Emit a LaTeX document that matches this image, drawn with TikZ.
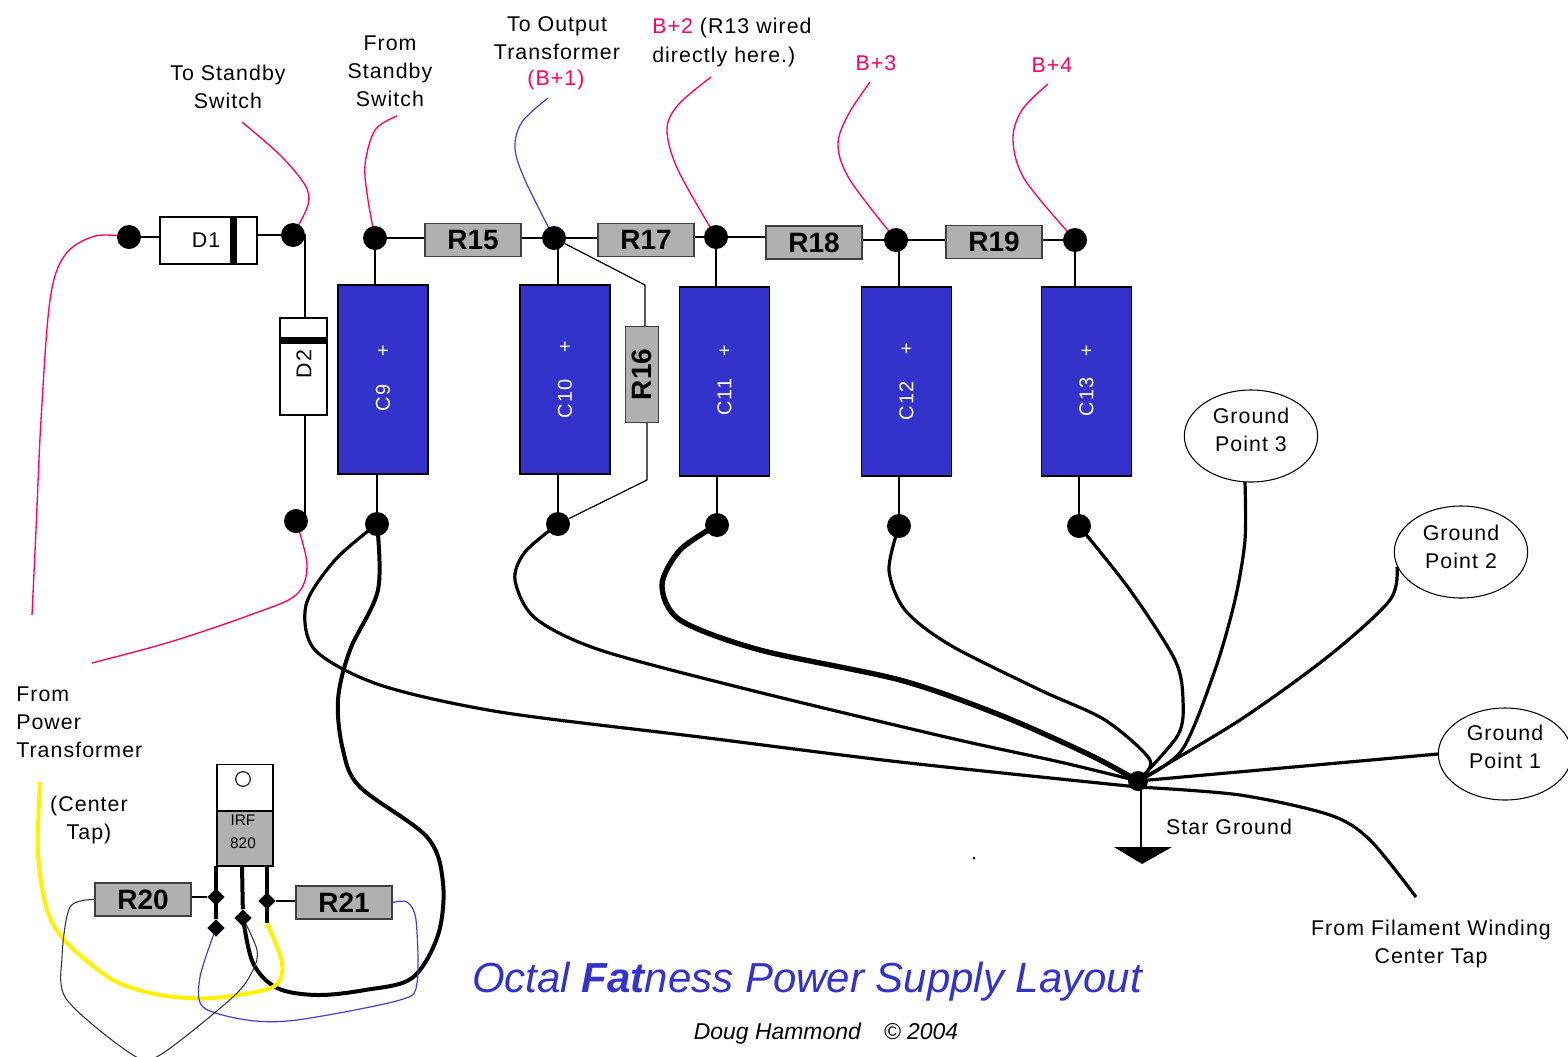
\documentclass[tikz,border=0pt]{standalone}
\usepackage{fontspec}
\setmainfont{Liberation Sans}
\newfontfamily\lab[LetterSpace=5]{Liberation Sans}
\usetikzlibrary{shapes.geometric,backgrounds}
\definecolor{capblue}{RGB}{51,51,204}
\definecolor{pinkw}{RGB}{255,0,102}
\definecolor{bluew}{RGB}{64,64,214}
\definecolor{resgray}{RGB}{176,176,176}
\definecolor{titleblue}{RGB}{51,51,204}
\tikzset{
 dotn/.style={circle,fill=black,draw=none,minimum size=18pt,inner sep=0pt},
 smalld/.style={diamond,fill=black,draw=none,minimum size=13pt,inner sep=0pt},
 rbox/.style={rectangle,draw=black!75,line width=1.1pt,fill=resgray,minimum width=72pt,minimum height=25pt,inner sep=0pt,font=\fontsize{21}{21}\selectfont\bfseries},
 dbox/.style={rectangle,draw=black,line width=1pt,fill=white,inner sep=0pt},
 capbox/.style={rectangle,draw=black,line width=1.1pt,fill=capblue,minimum width=67.5pt,minimum height=141.75pt,inner sep=0pt},
 captext/.style={text=white,inner sep=0pt,font=\lab\fontsize{15}{15}\selectfont},
 lbl/.style={inner sep=0pt,align=center,font=\lab\fontsize{16}{21}\selectfont},
 lbll/.style={lbl,align=left},
 pinklbl/.style={lbl,text=pinkw},
 gp/.style={ellipse,draw=black,line width=.8pt,fill=white,minimum width=100pt,minimum height=69pt,inner sep=0pt},
 lead/.style={line width=.9pt,black},
 pinkwire/.style={line width=1pt,pinkw},
 gw/.style={line width=3pt,black,line join=round},
 gwthin/.style={line width=2.4pt,black,line join=round},
 gwthick/.style={line width=4pt,black,line join=round},
 bw/.style={line width=.9pt,bluew},
 thinw/.style={line width=.8pt,black!80},
 yw/.style={line width=3pt,yellow},
 legw/.style={line width=3pt,black},
}
\begin{document}
\begin{tikzpicture}[x=0.75pt,y=-0.75pt]
\useasboundingbox (0,0) rectangle (1568,1057);
% dots
\node[dotn] (d1L) at (129,237) {};
\node[dotn] (d1R) at (293,235) {};
\node[dotn] (d2B) at (296,521) {};
\node[dotn] (c9T) at (375,238) {};
\node[dotn] (c9B) at (377,524) {};
\node[dotn] (b1) at (554,238) {};
\node[dotn] (c10B) at (558,524) {};
\node[dotn] (b2) at (716,237) {};
\node[dotn] (c11B) at (717,525) {};
\node[dotn] (b3) at (896,240) {};
\node[dotn] (c12B) at (899,526) {};
\node[dotn] (b4) at (1075,240) {};
\node[dotn] (c13B) at (1079,526) {};
% diodes
\node[dbox,minimum width=72.75pt,minimum height=35.25pt] (D1) at (208.5,240.5) {};
\fill (230,217) rectangle (237,264);
\node[lbl] (D1t) at (206,240) {D1};
\node[dbox,minimum width=35.25pt,minimum height=72.75pt] (D2) at (303.5,366.5) {};
\fill (280,337) rectangle (327,344);
\node[lbl,rotate=90] (D2t) at (304,364) {D2};
% resistors
\node[rbox] (R15) at (473,240) {R15};
\node[rbox] (R17) at (646,240) {R17};
\node[rbox] (R18) at (814,242.5) {R18};
\node[rbox] (R19) at (994,242) {R19};
\node[rbox,rotate=90] (R16) at (642,374.5) {R16};
\node[rbox] (R20) at (143,899.5) {R20};
\node[rbox] (R21) at (344,902.5) {R21};
% caps
\foreach \n/\x/\y/\py/\ty in {C9/383/379.5/352/398,C10/565/379.5/348/399,C11/724.5/381.5/352/397,C12/906.5/381.5/350/401,C13/1086.5/381.5/352/397}{
  \node[capbox] (\n) at (\x,\y) {};
  \node[captext] (\n p) at (\x,\py) {+};
  \node[captext,rotate=90] (\n t) at (\x,\ty) {\n};
}
% ground points
\node[gp] (GP3) at (1251,436) {};
\node[lbl] (GP3t) at (1251,430) {Ground\\Point 3};
\node[gp] (GP2) at (1461,552) {};
\node[lbl] (GP2t) at (1461,547) {Ground\\Point 2};
\node[gp] (GP1) at (1505,754) {};
\node[lbl] (GP1t) at (1505,747) {Ground\\Point 1};
% star
\node[circle,fill=black,minimum size=15pt,inner sep=0pt] (star) at (1138,781) {};
\coordinate (gnd) at (1141,848);
\fill (1114,847) -- (1172,847) -- (1142,864) -- cycle;
% transistor
\node[rectangle,draw=black,line width=1pt,fill=white,minimum width=42pt,minimum height=35pt,inner sep=0pt] (Qtop) at (245,787.5) {};
\node[circle,draw=black,line width=.8pt,fill=white,minimum size=11pt,inner sep=0pt] (Qh) at (243,779) {};
\node[rectangle,draw=black,line width=1pt,fill=resgray,minimum width=42pt,minimum height=41pt,inner sep=0pt] (Q) at (245,838.5) {};
\node[inner sep=0pt,align=center,font=\fontsize{11.5}{17}\selectfont] (Qt) at (243,832) {IRF\\820};
\node[smalld] (lA) at (216,897) {};
\node[smalld] (lB) at (216,928) {};
\node[smalld] (mA) at (243,918) {};
\node[smalld] (rA) at (267,901) {};
\coordinate (rEnd) at (267,923);
\coordinate (lTop) at (216,866);
\coordinate (mTop) at (242,866);
\coordinate (rTop) at (267,866);
% labels
\node[lbl] (t1) at (228,87) {To Standby\\Switch};
\node[lbl] (t2) at (390,71) {From\\Standby\\Switch};
\node[lbl] (t3) at (557,38) {To Output\\Transformer};
\node[pinklbl] (t3b) at (556,80) {(B+1)};
\node[lbll,anchor=north west,font=\lab\fontsize{16}{21.8}\selectfont] (t4) at (652,18) {\textcolor{pinkw}{B+2} (R13 wired\\directly here.)};
\node[pinklbl] (t5) at (876,63) {B+3};
\node[pinklbl] (t6) at (1052,65) {B+4};
\node[lbll,anchor=north west] (t7) at (16,687) {From\\Power\\Transformer};
\node[lbl] (t8) at (89,820) {(Center\\Tap)};
\node[lbl] (t9) at (1229,827) {Star Ground};
\node[lbl] (t10) at (1431,944) {From Filament Winding\\Center Tap};
\node[inner sep=0pt,text=titleblue,font=\fontsize{31.5}{33}\selectfont\itshape] (title) at (807,982) {Octal \textbf{Fat}ness Power Supply Layout};
\node[inner sep=0pt,font=\fontsize{17.2}{20}\selectfont\itshape] (credit) at (826,1034) {Doug Hammond\quad © 2004};
\fill (974,858) circle (1.5);
% free ends
\coordinate (pw1) at (32,615);
\coordinate (pw2) at (92,663);
\coordinate (f1) at (242,122);
\coordinate (f2) at (397,116);
\coordinate (f3) at (548,98);
\coordinate (f4) at (711,77);
\coordinate (f5) at (870,82);
\coordinate (f6) at (1048,84);
\coordinate (fil) at (1416,897);
\coordinate (ytop) at (40,782);
\begin{pgfonlayer}{background}
\fill[white] (0,0) rectangle (1568,1057);
% signal rails
\draw[lead] (d1L) -- (d1L -| D1.west);
\draw[lead] (d1R -| D1.east) -- (d1R);
\draw[lead] (c9T) -- (c9T -| R15.west);
\draw[lead] (b1 -| R15.east) -- (b1);
\draw[lead] (b1) -- (b1 -| R17.west);
\draw[lead] (b2 -| R17.east) -- (b2);
\draw[lead] (b2) -- (b2 -| R18.west);
\draw[lead] (b3 -| R18.east) -- (b3);
\draw[lead] (b3) -- (b3 -| R19.west);
\draw[lead] (b4 -| R19.east) -- (b4);
\draw[lead] (d1R.center) -| (305,318);
\draw[lead] (305,415) |- (d2B);
\draw[lead] (c9T |- C9.north) -- (c9T);
\draw[lead] (c9B |- C9.south) -- (c9B);
\draw[lead] (558,285) -- (558,238);
\draw[lead] (c10B |- C10.south) -- (c10B);
\draw[lead] (b2 |- C11.north) -- (b2);
\draw[lead] (c11B |- C11.south) -- (c11B);
\draw[lead] (899,287) -- (899,240);
\draw[lead] (c12B |- C12.south) -- (c12B);
\draw[lead] (b4 |- C13.north) -- (b4);
\draw[lead] (c13B |- C13.south) -- (c13B);
\draw[lead] (b1) -- (645,285) -- (645,327);
\draw[lead] (647,422) -- (647,480) -- (c10B);
\draw[lead] (lA -| R20.east) -- (lA);
\draw[lead] (rA -| R21.west) -- (rA);
\draw[line width=1.1pt] (gnd |- star) -- (gnd);
% pink and blue feed wires
\draw[pinkwire] plot[smooth,tension=.55] coordinates {(d1L) (95,236) (65,255) (50,300) (41,420) (36,530) (pw1)};
\draw[pinkwire] plot[smooth,tension=.55] coordinates {(d2B) (307,565) (296,595) (250,615) (170,642) (pw2)};
\draw[pinkwire] plot[smooth,tension=.55] coordinates {(f1) (280,155) (305,185) (308,205) (d1R)};
\draw[pinkwire] plot[smooth,tension=.55] coordinates {(f2) (375,130) (365,165) (368,200) (c9T)};
\draw[bw] plot[smooth,tension=.55] coordinates {(f3) (522,122) (515,148) (525,180) (b1)};
\draw[pinkwire] plot[smooth,tension=.55] coordinates {(f4) (678,105) (667,130) (678,170) (b2)};
\draw[pinkwire] plot[smooth,tension=.55] coordinates {(f5) (848,115) (838,145) (850,180) (b3)};
\draw[pinkwire] plot[smooth,tension=.55] coordinates {(f6) (1022,110) (1013,140) (1025,180) (b4)};
% ground returns
\draw[gwthin] plot[smooth,tension=.5] coordinates {(c9B) (335,560) (306,605) (315,650) (380,685) (500,712) (700,737) (900,762) (1138,787)};
\draw[gw] plot[smooth,tension=.55] coordinates {(c9B) (378,590) (350,650) (338,700) (343,750) (360,787) (427,837) (443,883) (438,935) (412,978) (365,990) (317,995) (277,988) (253,963) (mA)};
\draw[gwthin] plot[smooth,tension=.5] coordinates {(c10B) (525,552) (515,580) (535,618) (600,650) (750,690) (950,738) (1060,762) (star)};
\draw[gwthick] plot[smooth,tension=.5] coordinates {(c11B) (680,550) (662,585) (680,620) (760,650) (900,680) (1000,715) (1090,755) (star)};
\draw[gwthin] plot[smooth,tension=.5] coordinates {(c12B) (889,570) (905,610) (950,645) (1040,690) (1105,720) (1150,760) (star)};
\draw[gwthin] plot[smooth,tension=.5] coordinates {(c13B) (1130,590) (1175,660) (1183,700) (1178,735) (star)};
\draw[gwthin] plot[smooth,tension=.5] coordinates {(1245,482) (1245,540) (1235,600) (1215,670) (1182,750) (star)};
\draw[gwthin] plot[smooth,tension=.5] coordinates {(1397,567) (1390,600) (1330,655) (1240,720) (star)};
\draw[gwthin] (GP1.west) -- (star);
\draw[gwthin] plot[smooth,tension=.5] coordinates {(1138,787) (1240,795) (1330,815) (1370,840) (fil)};
% transistor wiring
\draw[yw] plot[smooth,tension=.5] coordinates {(ytop) (38,853) (47,910) (67,943) (113,980) (160,995) (213,998) (273,987) (282,963) (rEnd)};
\draw[bw] plot[smooth,tension=.5] coordinates {(lB) (200,977) (203,1007) (247,1020) (297,1020) (400,1000) (417,983) (416,920) (407,902) (R21.east)};
\draw[thinw] plot[smooth,tension=.5] coordinates {(R20.west) (70,907) (62,957) (67,1000) (133,1055) (160,1055) (233,997) (253,970) (257,950) (mA)};
\draw[legw] (lTop) -- (lB);
\draw[legw] (mTop) -- (mA);
\draw[legw] (rTop) -- (rEnd);
\end{pgfonlayer}
\end{tikzpicture}
\end{document}
